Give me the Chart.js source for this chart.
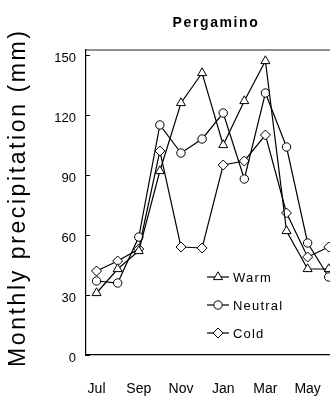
<!DOCTYPE html>
<html><head><meta charset="utf-8">
<script src="https://cdn.jsdelivr.net/npm/chart.js@4"></script>
<style>
html,body{margin:0;padding:0;background:#fff;overflow:hidden;width:330px;height:398px}
canvas{display:block}
</style></head>
<body>
<canvas id="c" width="355" height="398"></canvas>
<script>
// ---- data ----
const months = ['Jul','Aug','Sep','Oct','Nov','Dec','Jan','Feb','Mar','Apr','May','Jun'];
const warm    = [31, 43, 52,  92, 126, 141, 105, 127, 147,  62, 43, 43];
const neutral = [37, 36, 59, 115, 101, 108, 121,  88, 131, 104, 56, 39];
const cold    = [42, 47, 53, 102,  54,  53.5, 95,  97, 110,  71, 49, 54];
const seriesNames = ['Warm', 'Neutral', 'Cold'];
const yTickValues = [0, 30, 60, 90, 120, 150];
const chartTitle = 'Pergamino';
const yAxisTitle = 'Monthly precipitation (mm)';

const FONT = '"Liberation Sans", Arial, sans-serif';
const styles = ['triangle', 'circle', 'rectRot'];
const radii = [5.2, 4.2, 5];

function drawMarker(ctx, style, r, x, y) {
  ctx.save();
  ctx.beginPath();
  if (style === 'circle') {
    ctx.arc(x, y, r, 0, Math.PI * 2);
  } else if (style === 'triangle') {
    for (let k = 0; k < 3; k++) {
      const a = -Math.PI / 2 + k * 2 * Math.PI / 3;
      const px = x + Math.cos(a) * r, py = y + Math.sin(a) * r;
      k ? ctx.lineTo(px, py) : ctx.moveTo(px, py);
    }
  } else {
    ctx.moveTo(x, y - r); ctx.lineTo(x + r, y); ctx.lineTo(x, y + r); ctx.lineTo(x - r, y);
  }
  ctx.closePath();
  ctx.fillStyle = '#fff'; ctx.fill();
  ctx.lineWidth = 1; ctx.strokeStyle = '#000'; ctx.stroke();
  ctx.restore();
}

const decor = {
  id: 'decor',
  beforeDraw(chart) {
    chart.ctx.letterSpacing = '0px';
    const ctx = chart.ctx;
    ctx.save(); ctx.fillStyle = '#fff'; ctx.fillRect(0, 0, chart.width, chart.height); ctx.restore();
  },
  afterDatasetsDraw(chart) {
    // x labels are drawn after this (scale z:1) -> give them wider spacing
    chart.ctx.letterSpacing = '1px';
  },
  afterDraw(chart) {
    const ctx = chart.ctx;
    const a = chart.chartArea;
    const ys = chart.scales.y;
    ctx.save();
    ctx.letterSpacing = '0px';
    // frame top and right
    ctx.strokeStyle = '#222'; ctx.lineWidth = 1.2;
    ctx.beginPath();
    ctx.moveTo(a.left, a.top); ctx.lineTo(a.right, a.top); ctx.lineTo(a.right, a.bottom);
    ctx.stroke();
    // inward y ticks
    ctx.strokeStyle = '#000'; ctx.lineWidth = 1;
    ys.ticks.forEach(t => {
      const py = Math.round(ys.getPixelForValue(t.value)) + 0.5;
      ctx.beginPath(); ctx.moveTo(a.left, py); ctx.lineTo(a.left + 4, py); ctx.stroke();
    });
    // title
    ctx.fillStyle = '#000';
    ctx.font = 'bold 14px ' + FONT;
    ctx.letterSpacing = '1.6px';
    ctx.textAlign = 'center'; ctx.textBaseline = 'middle';
    ctx.fillText(chartTitle, 216, 23);
    // y axis title
    ctx.font = '23px ' + FONT;
    ctx.letterSpacing = '0px';
    const w0 = ctx.measureText(yAxisTitle).width;
    const ls = Math.max(0, (336 - w0) / (yAxisTitle.length - 1));
    ctx.letterSpacing = ls.toFixed(2) + 'px';
    ctx.translate(19, 199);
    ctx.rotate(-Math.PI / 2);
    ctx.fillText(yAxisTitle, ls / 2, 0);
    ctx.restore();

    // legend inside plot
    ctx.save();
    ctx.font = '13px ' + FONT;
    ctx.letterSpacing = '1.2px';
    ctx.textAlign = 'left'; ctx.textBaseline = 'middle';
    chart.data.datasets.forEach((ds, i) => {
      const y = 277 + 28 * i;
      ctx.strokeStyle = '#000'; ctx.lineWidth = 1.2;
      ctx.beginPath(); ctx.moveTo(207, y); ctx.lineTo(229, y); ctx.stroke();
      drawMarker(ctx, styles[i], radii[i], 218, y);
      ctx.fillStyle = '#000';
      ctx.fillText(ds.label, 233, y + 1);
    });
    ctx.restore();
  }
};

const seriesData = [warm, neutral, cold];
const chart = new Chart(document.getElementById('c'), {
  type: 'line',
  data: {
    labels: months,
    datasets: seriesData.map((d, i) => ({
      label: seriesNames[i],
      data: d,
      borderColor: '#000',
      borderWidth: 1.2,
      backgroundColor: '#fff',
      pointStyle: styles[i],
      pointRadius: radii[i],
      pointBorderWidth: 1,
      pointBorderColor: '#000',
      pointBackgroundColor: '#fff',
      tension: 0,
      fill: false
    }))
  },
  options: {
    responsive: false,
    animation: false,
    events: [],
    layout: { padding: { top: 50, right: 0, left: 0, bottom: 0 } },
    plugins: { legend: { display: false }, title: { display: false }, tooltip: { enabled: false } },
    scales: {
      x: {
        type: 'category',
        offset: true,
        z: 1,
        grid: { display: false, drawTicks: false },
        border: { display: true, color: '#000', width: 1.2 },
        ticks: {
          autoSkip: false, maxRotation: 0, minRotation: 0,
          padding: 26,
          color: '#000',
          font: { family: FONT, size: 14 },
          callback: function (v, i) { return i % 2 === 0 ? this.getLabelForValue(v) : ''; }
        },
        afterFit: s => { s.height = 43; }
      },
      y: {
        min: 0, max: 152.5,
        grid: { display: false, drawTicks: false },
        border: { display: true, color: '#000', width: 1.2 },
        afterBuildTicks: s => { s.ticks = yTickValues.map(v => ({ value: v })); },
        ticks: {
          padding: 10,
          labelOffset: 3,
          color: '#000',
          font: { family: FONT, size: 13 }
        },
        afterFit: s => { s.width = 86; }
      }
    }
  },
  plugins: [decor]
});
</script>
</body></html>
